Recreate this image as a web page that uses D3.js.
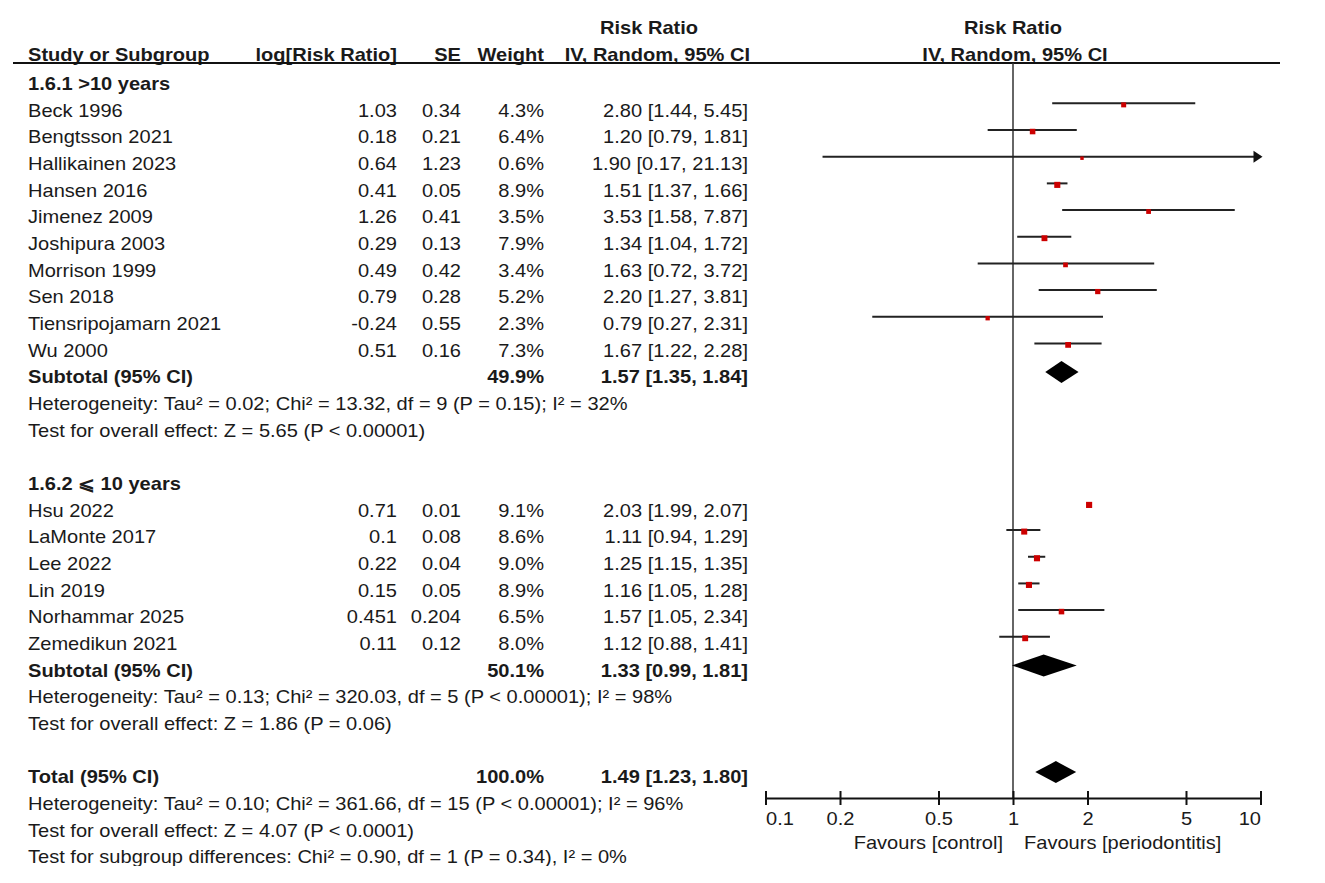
<!DOCTYPE html>
<html>
<head>
<meta charset="utf-8">
<script src="https://cdn.jsdelivr.net/npm/d3@7"></script>
<style>
  body { margin: 0; background: #fff; }
  text { font-family: "Liberation Sans", Arial, sans-serif; font-size: 18px; fill: #1a1a1a; }
</style>
</head>
<body>
<div id="forest"></div>
<script>
// data
var group1Title = "1.6.1 >10 years";
var group1Names = ["Beck 1996", "Bengtsson 2021", "Hallikainen 2023", "Hansen 2016", "Jimenez 2009",
  "Joshipura 2003", "Morrison 1999", "Sen 2018", "Tiensripojamarn 2021", "Wu 2000"];
var group1Log = [1.03, 0.18, 0.64, 0.41, 1.26, 0.29, 0.49, 0.79, -0.24, 0.51];
var group1SE = [0.34, 0.21, 1.23, 0.05, 0.41, 0.13, 0.42, 0.28, 0.55, 0.16];
var group1Weight = [4.3, 6.4, 0.6, 8.9, 3.5, 7.9, 3.4, 5.2, 2.3, 7.3];
var group1RR = [2.80, 1.20, 1.90, 1.51, 3.53, 1.34, 1.63, 2.20, 0.79, 1.67];
var group1Lo = [1.44, 0.79, 0.17, 1.37, 1.58, 1.04, 0.72, 1.27, 0.27, 1.22];
var group1Hi = [5.45, 1.81, 21.13, 1.66, 7.87, 1.72, 3.72, 3.81, 2.31, 2.28];

var group2Title = "1.6.2 \u2A7D 10 years";
var group2Names = ["Hsu 2022", "LaMonte 2017", "Lee 2022", "Lin 2019", "Norhammar 2025", "Zemedikun 2021"];
var group2Log = [0.71, 0.1, 0.22, 0.15, 0.451, 0.11];
var group2SE = [0.01, 0.08, 0.04, 0.05, 0.204, 0.12];
var group2Weight = [9.1, 8.6, 9.0, 8.9, 6.5, 8.0];
var group2RR = [2.03, 1.11, 1.25, 1.16, 1.57, 1.12];
var group2Lo = [1.99, 0.94, 1.15, 1.05, 1.05, 0.88];
var group2Hi = [2.07, 1.29, 1.35, 1.28, 2.34, 1.41];

// subtotal 1, subtotal 2, total
var summaryLabels = ["Subtotal (95% CI)", "Subtotal (95% CI)", "Total (95% CI)"];
var summaryWeight = [49.9, 50.1, 100.0];
var summaryRR = [1.57, 1.33, 1.49];
var summaryLo = [1.35, 0.99, 1.23];
var summaryHi = [1.84, 1.81, 1.80];

var group1Notes = ["Heterogeneity: Tau\u00B2 = 0.02; Chi\u00B2 = 13.32, df = 9 (P = 0.15); I\u00B2 = 32%",
  "Test for overall effect: Z = 5.65 (P < 0.00001)"];
var group2Notes = ["Heterogeneity: Tau\u00B2 = 0.13; Chi\u00B2 = 320.03, df = 5 (P < 0.00001); I\u00B2 = 98%",
  "Test for overall effect: Z = 1.86 (P = 0.06)"];
var totalNotes = ["Heterogeneity: Tau\u00B2 = 0.10; Chi\u00B2 = 361.66, df = 15 (P < 0.00001); I\u00B2 = 96%",
  "Test for overall effect: Z = 4.07 (P < 0.0001)",
  "Test for subgroup differences: Chi\u00B2 = 0.90, df = 1 (P = 0.34), I\u00B2 = 0%"];

var axisTicks = [0.1, 0.2, 0.5, 1, 2, 5, 10];
var favoursLeft = "Favours [control]";
var favoursRight = "Favours [periodontitis]";

//------ layout ------//
var svgwdth = 1325;
var svghght = 883;
var sx = 1.115;          // text in the figure is stretched horizontally
var colStudy = 28, colLog = 397, colSE = 461, colWeight = 544, colCI = 748;
var headerLineY = 63;
var axisY = 798;

var svg = d3.select("#forest").append("svg")
  .attr("width", svgwdth)
  .attr("height", svghght);

svg.append("clipPath").attr("id", "cut")
  .append("rect").attr("x", 0).attr("y", 0).attr("width", svgwdth).attr("height", 866);

var root = svg.append("g").attr("clip-path", "url(#cut)");

var x = d3.scaleLog().domain([0.1, 10]).range([765.5, 1260.5]).clamp(true);
var rowY = d3.scaleLinear().domain([0, 1]).range([90, 116.67]);   // baseline of row i
var sq = d3.scaleSqrt().domain([0, 10]).range([2.5, 6.3]);

function addText(g, px, py, str, anchor, bold) {
  return g.append("text")
    .attr("transform", `translate(${px},${py}) scale(${sx},1)`)
    .attr("text-anchor", anchor || "start")
    .attr("font-weight", bold ? "bold" : "normal")
    .text(str);
}

//build row list
var rows = [];
function addGroup(title, names, lg, se, w, rr, lo, hi, sIdx, notes) {
  rows.push({type: "title", label: title});
  names.forEach(function(n, i) {
    rows.push({type: "study", label: n, log: lg[i], se: se[i], w: w[i], rr: rr[i], lo: lo[i], hi: hi[i]});
  });
  rows.push({type: "summary", label: summaryLabels[sIdx], w: summaryWeight[sIdx],
    rr: summaryRR[sIdx], lo: summaryLo[sIdx], hi: summaryHi[sIdx]});
  notes.forEach(function(t) { rows.push({type: "note", label: t}); });
}
addGroup(group1Title, group1Names, group1Log, group1SE, group1Weight, group1RR, group1Lo, group1Hi, 0, group1Notes);
rows.push({type: "blank"});
addGroup(group2Title, group2Names, group2Log, group2SE, group2Weight, group2RR, group2Lo, group2Hi, 1, group2Notes);
rows.push({type: "blank"});
rows.push({type: "summary", label: summaryLabels[2], w: summaryWeight[2], rr: summaryRR[2], lo: summaryLo[2], hi: summaryHi[2]});
totalNotes.forEach(function(t) { rows.push({type: "note", label: t}); });

//------ header ------//
var head = root.append("g");
addText(head, 600, 34, "Risk Ratio", "start", true);
addText(head, x(1), 34, "Risk Ratio", "middle", true);
addText(head, colStudy, 61, "Study or Subgroup", "start", true);
addText(head, colLog, 61, "log[Risk Ratio]", "end", true);
addText(head, colSE, 61, "SE", "end", true);
addText(head, colWeight, 61, "Weight", "end", true);
addText(head, colCI + 2, 61, "IV, Random, 95% CI", "end", true);
addText(head, x(1) + 2, 61, "IV, Random, 95% CI", "middle", true);

head.append("line")
  .attr("x1", 13).attr("x2", 1280)
  .attr("y1", headerLineY).attr("y2", headerLineY)
  .attr("stroke", "#111").attr("stroke-width", 2);

// line of no effect
root.append("line")
  .attr("x1", x(1)).attr("x2", x(1))
  .attr("y1", headerLineY).attr("y2", axisY)
  .attr("stroke", "#333").attr("stroke-width", 1.5);

//------ table rows ------//
var fmt2 = d3.format(".2f");
function ciText(d) { return `${fmt2(d.rr)} [${fmt2(d.lo)}, ${fmt2(d.hi)}]`; }

var body = root.append("g");
var plot = root.append("g");

rows.forEach(function(d, i) {
  var by = rowY(i);
  var ly = by - 13.3;
  if (d.type === "title") {
    addText(body, colStudy, by, d.label, "start", true);
  } else if (d.type === "note") {
    addText(body, colStudy, by, d.label, "start", false);
  } else if (d.type === "study") {
    addText(body, colStudy, by, d.label);
    addText(body, colLog, by, String(d.log), "end");
    addText(body, colSE, by, String(d.se), "end");
    addText(body, colWeight, by, d.w.toFixed(1) + "%", "end");
    addText(body, colCI, by, ciText(d), "end");

    plot.append("line")
      .attr("x1", x(d.lo)).attr("x2", x(d.hi))
      .attr("y1", ly).attr("y2", ly)
      .attr("stroke", "#222").attr("stroke-width", 2);
    if (d.hi > x.domain()[1]) {
      var tip = x.range()[1] + 2;
      plot.append("path")
        .attr("d", `M${tip},${ly} L${tip - 9},${ly - 6} L${tip - 9},${ly + 6} Z`)
        .attr("fill", "#111");
    }
    var s = sq(d.w);
    plot.append("rect")
      .attr("x", x(d.rr) - s / 2).attr("y", ly + 1.5 - s / 2)
      .attr("width", s).attr("height", s)
      .attr("fill", "#cc0000");
  } else if (d.type === "summary") {
    addText(body, colStudy, by, d.label, "start", true);
    addText(body, colWeight, by, d.w.toFixed(1) + "%", "end", true);
    addText(body, colCI, by, ciText(d), "end", true);
    var h = 11;
    var cy = ly + 2;
    plot.append("path")
      .attr("d", `M${x(d.lo)},${cy} L${x(d.rr)},${cy - h} L${x(d.hi)},${cy} L${x(d.rr)},${cy + h} Z`)
      .attr("fill", "#000");
  }
});

//------ axis ------//
var bottomAxis = d3.axisBottom(x)
  .tickValues(axisTicks)
  .tickFormat(d3.format("~g"))
  .tickSizeOuter(0);

var axisG = root.append("g")
  .attr("transform", `translate(0, ${axisY})`)
  .call(bottomAxis);

axisG.select(".domain").attr("stroke", "#111").attr("stroke-width", 2);
axisG.selectAll(".tick line")
  .attr("y1", -7).attr("y2", 7)
  .attr("stroke", "#111").attr("stroke-width", 2);
axisG.selectAll(".tick text")
  .attr("y", 27).attr("dy", 0)
  .attr("fill", "#1a1a1a")
  .attr("transform", `scale(${sx},1)`)
  .attr("text-anchor", function(d, i) {
    return i === 0 ? "start" : (i === axisTicks.length - 1 ? "end" : "middle");
  });
axisG.attr("font-size", null).attr("font-family", null);

addText(root, x(1) - 10, 849, favoursLeft, "end");
addText(root, x(1) + 11, 849, favoursRight, "start");
</script>
</body>
</html>
